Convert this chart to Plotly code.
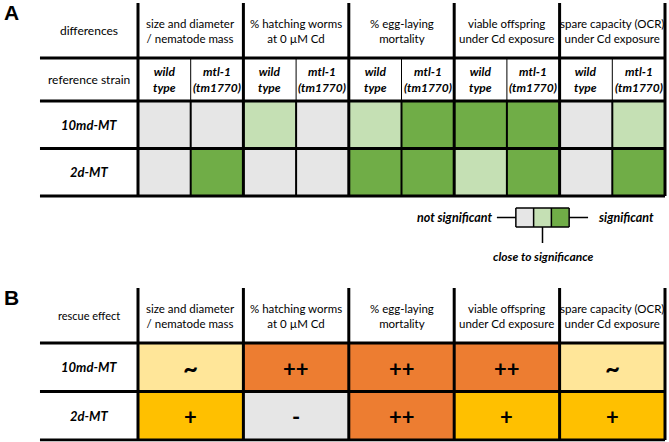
import plotly.graph_objects as go

# ---------------- data ----------------
groups = ["size and diameter<br>/ nematode mass",
          "% hatching worms<br>at 0 µM Cd",
          "% egg-laying<br>mortality",
          "viable offspring<br>under Cd exposure",
          "spare capacity (OCR)<br>under Cd exposure"]
strains = ["wild<br>type", "mtl-1<br>(tm1770)"]
rows = ["10md-MT", "2d-MT"]

# panel A: significance of differences (ns / close / sig), per group x strain
sig_10md = ["ns", "ns", "close", "ns", "close", "sig", "sig", "sig", "ns", "close"]
sig_2d = ["ns", "sig", "ns", "ns", "sig", "sig", "close", "sig", "ns", "sig"]
sig_levels = ["ns", "close", "sig"]
legend_left = "not significant"
legend_mid = "close to significance"
legend_right = "significant"

# panel B: rescue effect
rescue_10md = ["~", "++", "++", "++", "~"]
rescue_2d = ["+", "-", "++", "+", "+"]
rescue_levels = ["-", "~", "+", "++"]

# ---------------- styles ----------------
FONT = "Lato"
SIG_COLORS = ["#E6E6E6", "#C5E0B4", "#70AD47"]
RESCUE_COLORS = ["#E6E6E6", "#FFE699", "#FFC000", "#ED7D31"]
W, H = 669, 442

def discrete_scale(colors):
    n = len(colors)
    cs = []
    for i, c in enumerate(colors):
        cs.append([i / n, c])
        cs.append([(i + 1) / n, c])
    return cs

# geometry (axis units: x = sub-column, y = row)
XU = 52.7            # px per x unit
X0PX = 138           # px of x=0
LBL = -1.86          # left edge of label column (x units)
xr = [-1.9, 10.05]
xdom = [(X0PX + xr[0] * XU) / W, (X0PX + xr[1] * XU) / W]

# panel A y
YA_U, YA_0 = 47.5, 101
ya_px = lambda y: YA_0 + YA_U * y
yA_range = [3.45, -2.12]
yA_dom = [1 - ya_px(yA_range[0]) / H, 1 - ya_px(yA_range[1]) / H]
HA1_TOP, HA2_TOP = -2.063, -0.905

# panel B y
YB_U, YB_0 = 48.5, 343
yb_px = lambda y: YB_0 + YB_U * y
yB_range = [2.03, -1.2]
yB_dom = [max(0, 1 - yb_px(yB_range[0]) / H), 1 - yb_px(yB_range[1]) / H]
HB_TOP = -1.134

fig = go.Figure()

# ---- panel A heatmap ----
zA = [[sig_levels.index(v) for v in sig_10md], [sig_levels.index(v) for v in sig_2d]]
fig.add_trace(go.Heatmap(
    z=zA, x=list(range(11)), y=[0, 1, 2],
    zmin=-0.5, zmax=len(sig_levels) - 0.5,
    colorscale=discrete_scale(SIG_COLORS), showscale=False, hoverinfo="skip",
    xaxis="x", yaxis="y"))

# legend for panel A (small heatmap of the three levels)
LG_X0, LG_W = 7.17, 0.337
LG_Y0, LG_Y1 = 2.253, 2.653
fig.add_trace(go.Heatmap(
    z=[list(range(len(sig_levels)))],
    x=[LG_X0 + i * LG_W for i in range(len(sig_levels) + 1)],
    y=[LG_Y0, LG_Y1],
    zmin=-0.5, zmax=len(sig_levels) - 0.5,
    colorscale=discrete_scale(SIG_COLORS), showscale=False, hoverinfo="skip",
    xaxis="x", yaxis="y"))

# ---- panel B heatmap ----
zB = [[rescue_levels.index(v) for v in rescue_10md], [rescue_levels.index(v) for v in rescue_2d]]
fig.add_trace(go.Heatmap(
    z=zB, x=[2 * i for i in range(len(groups) + 1)], y=[0, 1, 2],
    zmin=-0.5, zmax=len(rescue_levels) - 0.5,
    colorscale=discrete_scale(RESCUE_COLORS), showscale=False, hoverinfo="skip",
    xaxis="x", yaxis="y2"))

shapes = []
def line(x0, y0, x1, y1, yref, w):
    shapes.append(dict(type="line", x0=x0, y0=y0, x1=x1, y1=y1, xref="x", yref=yref,
                       line=dict(color="black", width=w), layer="above"))

# panel A lines
for y in [HA2_TOP, 0, 1, 2]:
    line(LBL, y, 10, y, "y", 3)
for g in range(len(groups) + 1):
    line(2 * g, HA1_TOP, 2 * g, 2, "y", 3)
for g in range(len(groups)):
    line(2 * g + 1, HA2_TOP, 2 * g + 1, 0, "y", 1)
    line(2 * g + 1, 0, 2 * g + 1, 2, "y", 2)
# legend box
for i in range(len(sig_levels) + 1):
    line(LG_X0 + i * LG_W, LG_Y0, LG_X0 + i * LG_W, LG_Y1, "y", 1.5)
line(LG_X0, LG_Y0, LG_X0 + 3 * LG_W, LG_Y0, "y", 1.5)
line(LG_X0, LG_Y1, LG_X0 + 3 * LG_W, LG_Y1, "y", 1.5)
LG_YM = (LG_Y0 + LG_Y1) / 2
line(6.81, LG_YM, LG_X0, LG_YM, "y", 1.5)
line(LG_X0 + 3 * LG_W, LG_YM, 8.54, LG_YM, "y", 1.5)
line(LG_X0 + 1.5 * LG_W, LG_Y1, LG_X0 + 1.5 * LG_W, 2.99, "y", 1.5)

# panel B lines
for y in [0, 1, 2]:
    line(LBL, y, 10, y, "y2", 3)
for g in range(len(groups) + 1):
    line(2 * g, HB_TOP, 2 * g, 2, "y2", 3)

ann = []
def text(x, y, s, yref, size=11.5, xanchor="center", color="black", weight="normal", style="normal"):
    ann.append(dict(x=x, y=y, xref="x", yref=yref, text=s, showarrow=False,
                    xanchor=xanchor, yanchor="middle", align="center",
                    font=dict(family=FONT, size=size, color=color, weight=weight, style=style)))

LBL_C = LBL / 2
# panel A texts
text(LBL_C, (HA1_TOP + HA2_TOP) / 2, "differences", "y", size=12)
text(LBL_C, HA2_TOP / 2, "reference strain", "y", size=12)
for g, name in enumerate(groups):
    text(2 * g + 1, (HA1_TOP + HA2_TOP) / 2, name, "y")
    for s, st in enumerate(strains):
        text(2 * g + s + 0.5, HA2_TOP / 2, st, "y", size=12, weight="bold", style="italic")
for r, name in enumerate(rows):
    text(LBL_C, r + 0.5, name, "y", size=13, weight="bold", style="italic")
text(6.77, LG_YM, legend_left, "y", size=12.5, xanchor="right", weight="bold", style="italic")
text(8.69, LG_YM, legend_right, "y", size=12.5, xanchor="left", weight="bold", style="italic")
text(LG_X0 + 1.5 * LG_W, 3.27, legend_mid, "y", size=12, weight="bold", style="italic")

# panel B texts
text(LBL_C, HB_TOP / 2, "rescue effect", "y2", size=11)
for g, name in enumerate(groups):
    text(2 * g + 1, HB_TOP / 2, name, "y2")
for r, vals in enumerate([rescue_10md, rescue_2d]):
    text(LBL_C, r + 0.5, rows[r], "y2", size=13, weight="bold", style="italic")
    for g, v in enumerate(vals):
        text(2 * g + 1, r + 0.52, v, "y2", size=(26 if v == "~" else 22), weight="bold")

# panel letters
for letter, py in [("A", 12), ("B", 297)]:
    ann.append(dict(x=11 / W, y=1 - py / H, xref="paper", yref="paper", text=letter,
                    showarrow=False, xanchor="center", yanchor="middle",
                    font=dict(family="Liberation Sans", size=21, color="black", weight="bold")))

axis_off = dict(showgrid=False, zeroline=False, showticklabels=False, ticks="", showline=False)
fig.update_layout(
    width=W, height=H, margin=dict(l=0, r=0, t=0, b=0),
    paper_bgcolor="white", plot_bgcolor="rgba(0,0,0,0)",
    xaxis=dict(range=xr, domain=xdom, fixedrange=True, **axis_off),
    yaxis=dict(range=yA_range, domain=yA_dom, fixedrange=True, **axis_off),
    yaxis2=dict(range=yB_range, domain=yB_dom, fixedrange=True, **axis_off),
    shapes=shapes, annotations=ann, showlegend=False,
)

fig.write_html("out.html", config={"displayModeBar": False},
               post_script="document.body.style.margin='0';")
